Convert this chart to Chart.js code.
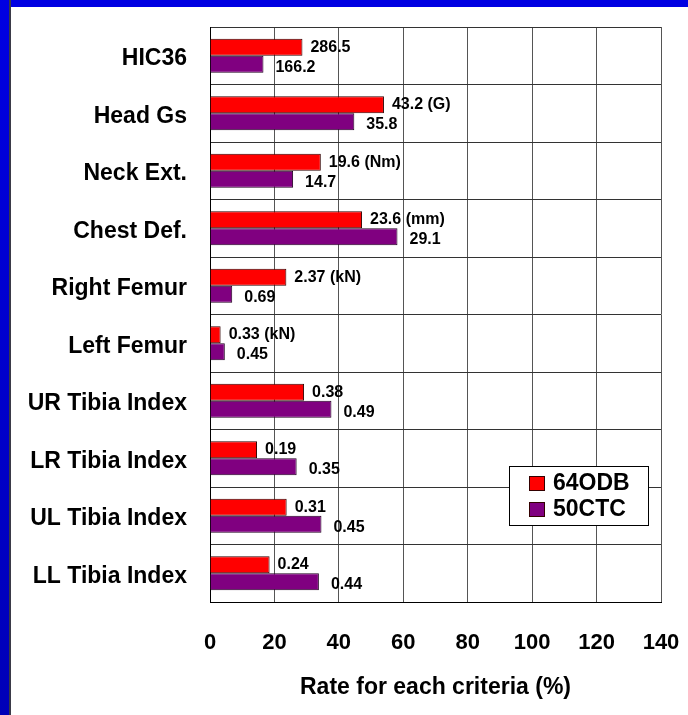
<!DOCTYPE html>
<html>
<head>
<meta charset="utf-8">
<script src="https://cdn.jsdelivr.net/npm/chart.js@4"></script>
<style>
  body { margin: 0; background: #fff; }
  #page { position: relative; width: 688px; height: 715px; background: #fff; overflow: hidden; }
  #topBar { position: absolute; left: 0; top: 0; width: 688px; height: 7px; background: #0000e2; }
  #leftBar { position: absolute; left: 0; top: 0; width: 9px; height: 715px; background: linear-gradient(#0000e2, #0000b8); border-right: 2px solid #3a3a48; }
  #wrap { position: absolute; left: 0; top: 0; width: 688px; height: 715px; }
</style>
</head>
<body>
<div id="page">
  <div id="topBar"></div>
  <div id="leftBar"></div>
  <div id="wrap"><canvas id="chart" width="688" height="715"></canvas></div>
</div>
<script>
// --- Data ---
const categories = ['HIC36', 'Head Gs', 'Neck Ext.', 'Chest Def.', 'Right Femur', 'Left Femur',
  'UR Tibia Index', 'LR Tibia Index', 'UL Tibia Index', 'LL Tibia Index'];
const seriesNames = ['64ODB', '50CTC'];
const rate64 = [28.7, 54.0, 34.4, 47.2, 23.7, 3.3, 29.2, 14.6, 23.8, 18.5];
const rate50 = [16.6, 44.8, 25.8, 58.2, 6.9, 4.6, 37.7, 26.9, 34.6, 33.8];
const labels64 = ['286.5', '43.2 (G)', '19.6 (Nm)', '23.6 (mm)', '2.37 (kN)', '0.33 (kN)', '0.38', '0.19', '0.31', '0.24'];
const labels50 = ['166.2', '35.8', '14.7', '29.1', '0.69', '0.45', '0.49', '0.35', '0.45', '0.44'];
const xTicks = [0, 20, 40, 60, 80, 100, 120, 140];

const FONT = "'Liberation Sans', Arial, sans-serif";

// --- Value labels next to bars ---
const valueLabels = {
  id: 'valueLabels',
  afterDatasetsDraw(chart) {
    const ctx = chart.ctx;
    const texts = [labels64, labels50];
    const dx = [8, 12];
    const dy = [0, 3];
    ctx.save();
    ctx.font = 'bold 16px ' + FONT;
    ctx.fillStyle = '#000';
    ctx.textAlign = 'left';
    ctx.textBaseline = 'middle';
    chart.data.datasets.forEach((ds, i) => {
      chart.getDatasetMeta(i).data.forEach((bar, j) => {
        ctx.fillText(texts[i][j], bar.x + dx[i], bar.y + dy[i]);
      });
    });
    ctx.restore();
  }
};

// --- Boxed legend inside the plot ---
const boxLegend = {
  id: 'boxLegend',
  afterDraw(chart) {
    const ctx = chart.ctx;
    const a = chart.chartArea;
    const x = a.right - 152, y = a.top + 439, w = 139, h = 59;
    ctx.save();
    ctx.fillStyle = '#fff';
    ctx.fillRect(x, y, w, h);
    ctx.strokeStyle = '#000';
    ctx.lineWidth = 1;
    ctx.strokeRect(x + 0.5, y + 0.5, w, h);
    ctx.font = 'bold 23px ' + FONT;
    ctx.textBaseline = 'middle';
    chart.data.datasets.forEach((ds, i) => {
      const cy = y + 17 + i * 26;
      ctx.fillStyle = ds.backgroundColor;
      ctx.fillRect(x + 20, cy - 7, 16, 15);
      ctx.strokeStyle = '#300';
      ctx.strokeRect(x + 20.5, cy - 6.5, 15, 14);
      ctx.fillStyle = '#000';
      ctx.fillText(ds.label, x + 44, cy + 1);
    });
    ctx.restore();
  }
};

const ctx = document.getElementById('chart').getContext('2d');
new Chart(ctx, {
  type: 'bar',
  data: {
    labels: categories,
    datasets: [{
      label: seriesNames[0],
      data: rate64,
      backgroundColor: '#ff0000',
      borderColor: '#300000',
      borderWidth: 1,
      categoryPercentage: 0.59,
      barPercentage: 1.0
    }, {
      label: seriesNames[1],
      data: rate50,
      backgroundColor: '#800080',
      borderColor: '#200020',
      borderWidth: 1,
      categoryPercentage: 0.59,
      barPercentage: 1.0
    }]
  },
  options: {
    indexAxis: 'y',
    responsive: false,
    animation: false,
    layout: { padding: { top: 27, right: 27, left: 0, bottom: 0 } },
    plugins: { legend: { display: false }, tooltip: { enabled: false } },
    scales: {
      x: {
        min: 0,
        max: 140,
        afterBuildTicks: scale => { scale.ticks = xTicks.map(v => ({ value: v })); },
        afterFit: scale => { scale.height = 113; },
        // invisible tick marks push the labels down without widening the padding
        grid: { color: '#555', drawTicks: true, tickLength: 28, tickColor: 'rgba(0,0,0,0)' },
        border: { color: '#000', width: 1 },
        ticks: {
          padding: 0,
          color: '#000',
          font: { family: FONT, size: 22, weight: 'bold' }
        },
        title: {
          display: true,
          text: 'Rate for each criteria (%)',
          color: '#000',
          font: { family: FONT, size: 23, weight: 'bold' },
          padding: { top: 0, bottom: 14 }
        }
      },
      y: {
        afterFit: scale => { scale.width = 210; },
        grid: { color: '#333', drawTicks: true, tickLength: 23, tickColor: 'rgba(0,0,0,0)', offset: true },
        border: { color: '#000', width: 1 },
        ticks: {
          padding: 0,
          labelOffset: 3,
          color: '#000',
          font: { family: FONT, size: 23, weight: 'bold' }
        }
      }
    }
  },
  plugins: [valueLabels, boxLegend]
});
</script>
</body>
</html>
